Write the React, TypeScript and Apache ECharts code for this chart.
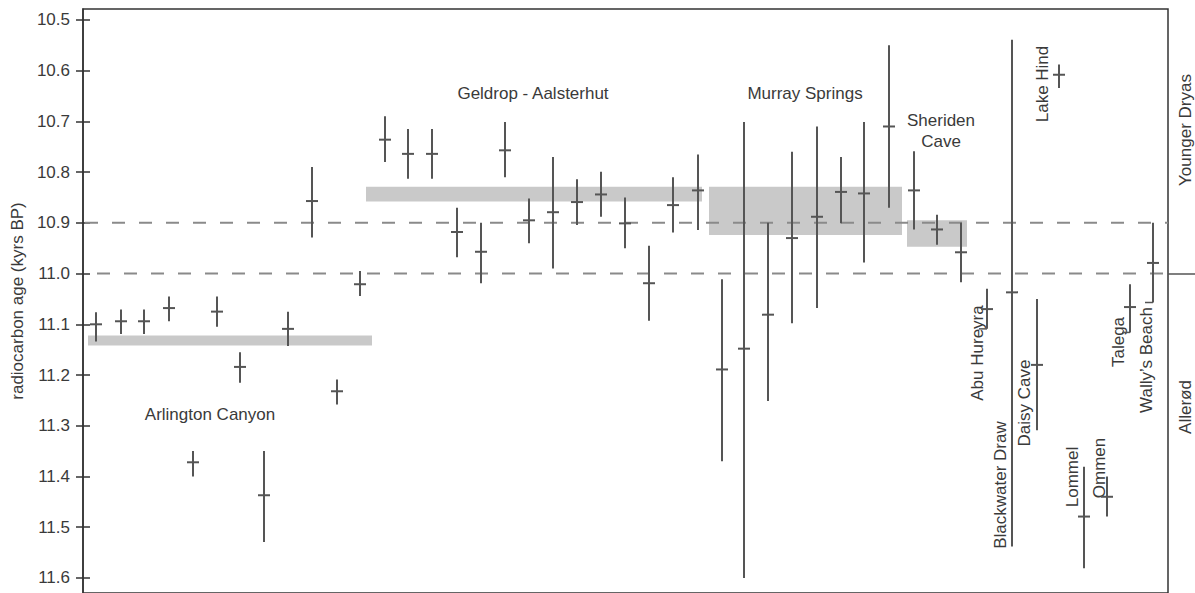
import React, { useEffect, useRef } from "react";
import * as echarts from "echarts";

// x = sample position along the plot (arbitrary units), [x, low, center, high] in kyrs BP
const arlington: number[][] = [
  [13, 11.076, 11.1, 11.134],
  [38, 11.071, 11.094, 11.119],
  [61, 11.071, 11.094, 11.119],
  [86, 11.045, 11.068, 11.094],
  [110, 11.35, 11.372, 11.4],
  [134, 11.045, 11.075, 11.105],
  [157, 11.155, 11.184, 11.215],
  [181, 11.35, 11.437, 11.529],
  [205, 11.075, 11.109, 11.143],
  [229, 10.79, 10.857, 10.929],
  [254, 11.209, 11.232, 11.258],
  [277, 10.995, 11.021, 11.044],
];
const geldrop: number[][] = [
  [302, 10.69, 10.736, 10.78],
  [325, 10.715, 10.764, 10.813],
  [349, 10.715, 10.764, 10.813],
  [374, 10.87, 10.918, 10.968],
  [398, 10.9, 10.957, 11.019],
  [422, 10.701, 10.757, 10.81],
  [446, 10.852, 10.895, 10.94],
  [470, 10.77, 10.879, 10.99],
  [494, 10.814, 10.859, 10.904],
  [518, 10.799, 10.844, 10.888],
  [542, 10.85, 10.901, 10.95],
  [566, 10.945, 11.019, 11.093],
  [590, 10.81, 10.865, 10.919],
  [615, 10.765, 10.836, 10.914],
];
const murray: number[][] = [
  [639, 11.011, 11.189, 11.37],
  [661, 10.701, 11.148, 11.6],
  [685, 10.9, 11.081, 11.251],
  [709, 10.76, 10.93, 11.098],
  [734, 10.71, 10.888, 11.068],
  [758, 10.77, 10.839, 10.901],
  [781, 10.701, 10.842, 10.978],
  [806, 10.55, 10.71, 10.87],
];
const sheriden: number[][] = [
  [831, 10.759, 10.836, 10.913],
  [854, 10.884, 10.913, 10.943],
  [878, 10.9, 10.958, 11.017],
];
const otherSites: string[] = [
  "Abu Hureyra",
  "Blackwater Draw",
  "Daisy Cave",
  "Lake Hind",
  "Lommel",
  "Ommen",
  "Talega",
  "Wally's Beach",
];
const otherValues: number[][] = [
  [904, 11.03, 11.07, 11.109],
  [929, 10.539, 11.037, 11.538],
  [954, 11.05, 11.18, 11.309],
  [976, 10.588, 10.608, 10.634],
  [1001, 11.381, 11.479, 11.581],
  [1024, 11.4, 11.44, 11.479],
  [1047, 11.021, 11.066, 11.116],
  [1070, 10.9, 10.979, 11.057],
];
const leaderSites: string[] = ["Abu Hureyra", "Talega", "Wally's Beach"];

// site means: [xStart, xEnd, top, bottom]
const bands: number[][] = [
  [5, 289, 11.122, 11.142],
  [283, 619, 10.829, 10.858],
  [626, 819, 10.829, 10.924],
  [824, 884, 10.895, 10.947],
];
const boundaries: number[] = [10.9, 11.0];
const yTicks: number[] = [10.5, 10.6, 10.7, 10.8, 10.9, 11.0, 11.1, 11.2, 11.3, 11.4, 11.5, 11.6];

const X_MIN = 0;
const X_MAX = 1085;
const Y_MIN = 10.4784;
const Y_MAX = 11.6297;

const FONT = "'Liberation Sans', Arial, sans-serif";
const TEXT = "#3a3a3a";
const BAR = "#555555";

function errorRender(leaders: boolean) {
  return (params: any, api: any) => {
    const x = api.value(0);
    const lo = api.coord([x, api.value(1)]);
    const c = api.coord([x, api.value(2)]);
    const hi = api.coord([x, api.value(3)]);
    const st = { stroke: BAR, lineWidth: 2 };
    const children: any[] = [
      { type: "line", shape: { x1: lo[0], y1: lo[1], x2: hi[0], y2: hi[1] }, style: st },
      { type: "line", shape: { x1: c[0] - 6, y1: c[1], x2: c[0] + 6, y2: c[1] }, style: st },
    ];
    if (leaders && leaderSites.indexOf(otherSites[params.dataIndex]) >= 0) {
      children.push({
        type: "line",
        shape: { x1: hi[0] - 8, y1: hi[1], x2: hi[0], y2: hi[1] },
        style: { stroke: BAR, lineWidth: 1.5 },
      });
    }
    return { type: "group", children };
  };
}

export default function App() {
  const ref = useRef<HTMLDivElement>(null);
  useEffect(() => {
    if (!ref.current) return;
    const chart = echarts.init(ref.current, undefined, { renderer: "svg" });
    const errSeries = (data: number[][], leaders = false) => ({
      type: "custom",
      renderItem: errorRender(leaders),
      data,
      z: 5,
      encode: { x: 0, y: [1, 2, 3] },
    });
    const label = (text: string, x: number, y: number, rot = 0) => ({
      type: "text",
      x,
      y,
      rotation: rot,
      style: {
        text,
        fill: TEXT,
        font: `17px ${FONT}`,
        align: "center",
        verticalAlign: "middle",
      },
    });
    const R = Math.PI / 2;
    chart.setOption({
      animation: false,
      grid: {
        left: 83,
        right: 27,
        top: 9,
        bottom: -2,
        show: true,
        borderColor: "#333",
        borderWidth: 1.5,
        backgroundColor: "transparent",
      },
      xAxis: {
        type: "value",
        min: X_MIN,
        max: X_MAX,
        show: false,
      },
      yAxis: [
        {
          type: "value",
          inverse: true,
          min: Y_MIN,
          max: Y_MAX,
          position: "left",
          splitLine: { show: false },
          axisLine: { show: true, lineStyle: { color: "#333", width: 1.5 } },
          axisTick: {
            show: true,
            inside: false,
            length: 7,
            customValues: yTicks,
            lineStyle: { color: "#333", width: 1.5 },
          },
          axisLabel: {
            show: true,
            customValues: yTicks,
            formatter: (v: number) => v.toFixed(1),
            color: TEXT,
            fontSize: 17,
            fontFamily: FONT,
            margin: 13,
          },
          name: "radiocarbon age (kyrs BP)",
          nameLocation: "middle",
          nameGap: 50,
          nameRotate: 90,
          nameTextStyle: { color: TEXT, fontSize: 17, fontFamily: FONT },
        },
        {
          type: "value",
          inverse: true,
          min: Y_MIN,
          max: Y_MAX,
          position: "left",
          splitLine: { show: false },
          axisLine: { show: false },
          axisLabel: { show: false },
          axisTick: {
            show: true,
            inside: true,
            length: 7,
            customValues: yTicks,
            lineStyle: { color: "#333", width: 1.5 },
          },
        },
      ],
      series: [
        {
          type: "custom",
          z: 1,
          data: bands,
          encode: { x: [0, 1], y: [2, 3] },
          renderItem: (params: any, api: any) => {
            const p1 = api.coord([api.value(0), api.value(2)]);
            const p2 = api.coord([api.value(1), api.value(3)]);
            return {
              type: "rect",
              shape: { x: p1[0], y: p1[1], width: p2[0] - p1[0], height: p2[1] - p1[1] },
              style: { fill: "#c9c9c9" },
            };
          },
        },
        {
          type: "custom",
          z: 2,
          data: boundaries.map((v) => [v]),
          encode: { y: 0 },
          renderItem: (params: any, api: any) => {
            const v = api.value(0);
            const a = api.coord([X_MIN, v]);
            const b = api.coord([X_MAX, v]);
            return {
              type: "line",
              shape: { x1: a[0], y1: a[1], x2: b[0], y2: b[1] },
              style: {
                stroke: "#8a8a8a",
                lineWidth: 2,
                lineDash: [13, 14],
                lineDashOffset: params.dataIndex === 0 ? 25 : 13,
              },
            };
          },
        },
        errSeries(arlington),
        errSeries(geldrop),
        errSeries(murray),
        errSeries(sheriden),
        errSeries(otherValues, true),
      ],
      graphic: [
        label("Arlington Canyon", 210, 414),
        label("Geldrop - Aalsterhut", 533, 93),
        label("Murray Springs", 805, 93),
        label("Sheriden", 941, 120),
        label("Cave", 941, 141),
        label("Abu Hureyra", 977, 353, R),
        label("Blackwater Draw", 1000, 485, R),
        label("Daisy Cave", 1024, 403, R),
        label("Lake Hind", 1042, 84, R),
        label("Lommel", 1072, 477, R),
        label("Ommen", 1099, 468, R),
        label("Talega", 1118, 342, R),
        label("Wally\u2019s Beach", 1146, 360, R),
        label("Younger Dryas", 1185, 130, R),
        label("Aller\u00f8d", 1185, 407, R),
        {
          type: "line",
          shape: { x1: 1168, y1: 274, x2: 1195, y2: 274 },
          style: { stroke: "#555", lineWidth: 1.5 },
        },
      ],
    });
    return () => chart.dispose();
  }, []);
  return (
    <div
      ref={ref}
      style={{ position: "fixed", left: 0, top: 0, width: 1195, height: 593, background: "#fff" }}
    />
  );
}
